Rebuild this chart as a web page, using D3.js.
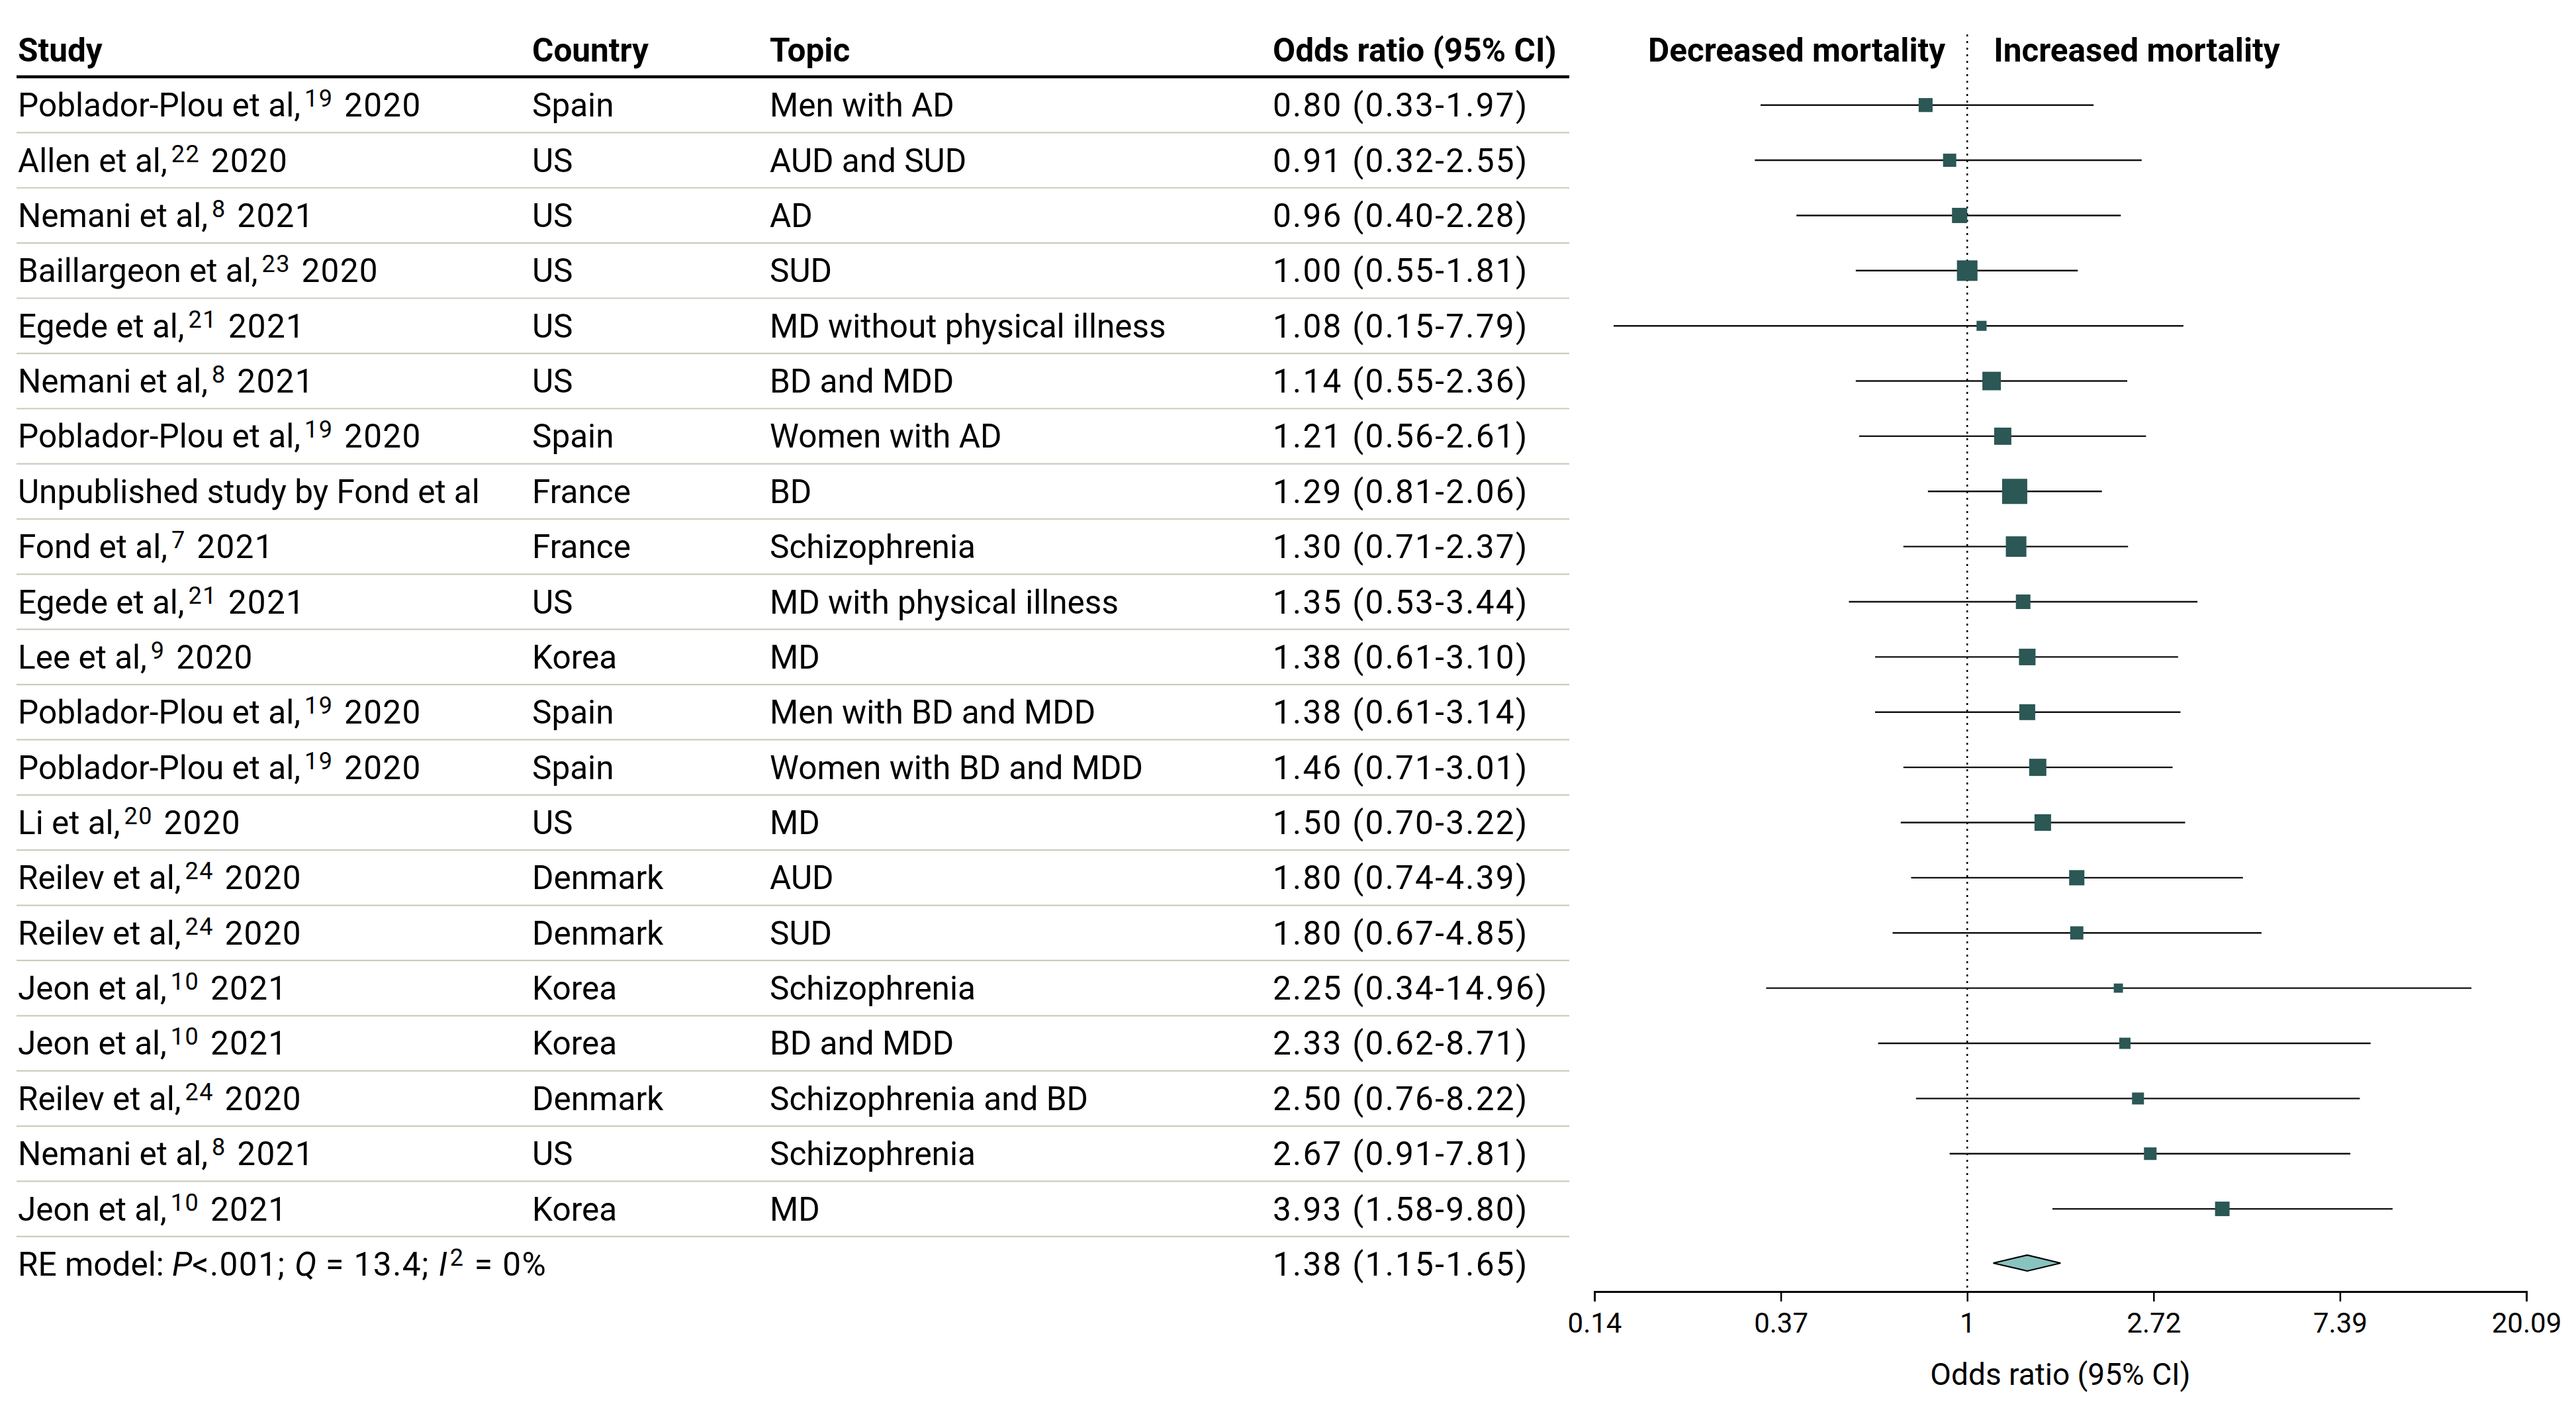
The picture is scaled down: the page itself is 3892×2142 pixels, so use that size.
<!DOCTYPE html>
<html>
<head>
<meta charset="utf-8">
<script src="https://cdn.jsdelivr.net/npm/d3@7"></script>
<style>
  html, body { margin: 0; padding: 0; background: #ffffff; }
  svg { display: block; }
  text { font-family: Roboto, "Noto Sans", sans-serif; fill: #000; }
</style>
</head>
<body>
<svg id="chart" width="3892" height="2142"></svg>
<script>
// ---------------- data ----------------
const authors = ["Poblador-Plou et al,", "Allen et al,", "Nemani et al,", "Baillargeon et al,", "Egede et al,",
  "Nemani et al,", "Poblador-Plou et al,", "Unpublished study by Fond et al", "Fond et al,", "Egede et al,",
  "Lee et al,", "Poblador-Plou et al,", "Poblador-Plou et al,", "Li et al,", "Reilev et al,",
  "Reilev et al,", "Jeon et al,", "Jeon et al,", "Reilev et al,", "Nemani et al,", "Jeon et al,"];
const refs = ["19", "22", "8", "23", "21", "8", "19", "", "7", "21", "9", "19", "19", "20", "24", "24", "10", "10", "24", "8", "10"];
const years = ["2020", "2020", "2021", "2020", "2021", "2021", "2020", "", "2021", "2021", "2020", "2020", "2020", "2020", "2020",
  "2020", "2021", "2021", "2020", "2021", "2021"];
const countries = ["Spain", "US", "US", "US", "US", "US", "Spain", "France", "France", "US", "Korea", "Spain", "Spain", "US",
  "Denmark", "Denmark", "Korea", "Korea", "Denmark", "US", "Korea"];
const topics = ["Men with AD", "AUD and SUD", "AD", "SUD", "MD without physical illness", "BD and MDD", "Women with AD", "BD",
  "Schizophrenia", "MD with physical illness", "MD", "Men with BD and MDD", "Women with BD and MDD", "MD", "AUD", "SUD",
  "Schizophrenia", "BD and MDD", "Schizophrenia and BD", "Schizophrenia", "MD"];
// odds ratio column as printed
const orLabels = ["0.80 (0.33-1.97)", "0.91 (0.32-2.55)", "0.96 (0.40-2.28)", "1.00 (0.55-1.81)", "1.08 (0.15-7.79)",
  "1.14 (0.55-2.36)", "1.21 (0.56-2.61)", "1.29 (0.81-2.06)", "1.30 (0.71-2.37)", "1.35 (0.53-3.44)", "1.38 (0.61-3.10)",
  "1.38 (0.61-3.14)", "1.46 (0.71-3.01)", "1.50 (0.70-3.22)", "1.80 (0.74-4.39)", "1.80 (0.67-4.85)", "2.25 (0.34-14.96)",
  "2.33 (0.62-8.71)", "2.50 (0.76-8.22)", "2.67 (0.91-7.81)", "3.93 (1.58-9.80)"];
// values as drawn in the plot
const oddsRatio = [0.80, 0.91, 0.96, 1.00, 1.08, 1.14, 1.21, 1.29, 1.30, 1.35, 1.38, 1.38, 1.46, 1.50, 1.80, 1.80, 2.25, 2.33, 2.50, 2.67, 3.93];
const ciLow = [0.33, 0.32, 0.40, 0.55, 0.15, 0.55, 0.56, 0.81, 0.71, 0.53, 0.61, 0.61, 0.71, 0.70, 0.74, 0.67, 0.34, 0.62, 0.76, 0.91, 1.58];
const ciHigh = [1.97, 2.55, 2.28, 1.81, 3.19, 2.36, 2.61, 2.06, 2.37, 3.44, 3.10, 3.14, 3.01, 3.22, 4.39, 4.85, 14.96, 8.71, 8.22, 7.81, 9.80];
// study weights (%)
const weights = [3.7, 3.3, 4.4, 8.0, 1.9, 6.5, 5.6, 12.0, 8.0, 4.0, 5.2, 4.8, 5.6, 5.2, 4.4, 3.3, 1.6, 2.4, 2.7, 3.0, 4.0];
const pooledOR = [1.38, 1.15, 1.65];
const pooledLabel = "1.38 (1.15-1.65)";
const headers = ["Study", "Country", "Topic", "Odds ratio (95% CI)"];
const tickValues = [Math.exp(-2), Math.exp(-1), 1, Math.exp(1), Math.exp(2), Math.exp(3)];
const tickLabels = ["0.14", "0.37", "1", "2.72", "7.39", "20.09"];

// ---------------- layout ----------------
const svg = d3.select("#chart");
const nRows = oddsRatio.length;
const y = d3.scaleLinear().domain([0, 1]).range([158.7, 158.7 + 83.37]);
const x = d3.scaleLog().domain([Math.exp(-2), Math.exp(3)]).range([2409, 3817]);
const size = d3.scaleSqrt().domain([0, 12.0]).range([0, 38]);
const colX = [27, 804, 1163, 1923];
const tableLeft = 25, tableRight = 2371;
const FS = 49.5, SUP = 36, baseOff = 17.5;

// header
svg.append("g").selectAll("text").data(headers).join("text")
  .attr("x", (d, i) => colX[i]).attr("y", y(-1) + baseOff)
  .attr("font-size", FS).attr("font-weight", 700).text(d => d);
svg.append("line").attr("x1", tableLeft).attr("x2", tableRight)
  .attr("y1", y(-0.5) - 1).attr("y2", y(-0.5) - 1)
  .attr("stroke", "#000").attr("stroke-width", 4.5);

svg.append("text").attr("x", x(1) - 33).attr("y", y(-1) + baseOff)
  .attr("text-anchor", "end").attr("font-size", FS).attr("font-weight", 700).text("Decreased mortality");
svg.append("text").attr("x", x(1) + 40).attr("y", y(-1) + baseOff)
  .attr("font-size", FS).attr("font-weight", 700).text("Increased mortality");

// row separators
svg.append("g").selectAll("line").data(d3.range(nRows)).join("line")
  .attr("x1", tableLeft).attr("x2", tableRight)
  .attr("y1", i => y(i + 0.5)).attr("y2", i => y(i + 0.5))
  .attr("stroke", "#c9cebd").attr("stroke-width", 2.2);

// table text
const rows = svg.append("g").selectAll("g").data(d3.range(nRows)).join("g");
rows.each(function (i) {
  const g = d3.select(this);
  const by = y(i) + baseOff;
  const t = g.append("text").attr("x", colX[0]).attr("y", by).attr("font-size", FS);
  t.append("tspan").text(authors[i]);
  if (refs[i]) {
    t.append("tspan").attr("font-size", SUP).attr("dx", 6).attr("dy", -15)
      .attr("letter-spacing", 1.5).text(refs[i]);
    t.append("tspan").attr("dx", 3).attr("dy", 15).attr("letter-spacing", 1.3).text(" " + years[i]);
  }
  g.append("text").attr("x", colX[1]).attr("y", by).attr("font-size", FS).text(countries[i]);
  g.append("text").attr("x", colX[2]).attr("y", by).attr("font-size", FS).text(topics[i]);
  g.append("text").attr("x", colX[3]).attr("y", by).attr("font-size", FS)
    .attr("letter-spacing", 2.3).text(orLabels[i]);
});

// pooled row text
const py = y(nRows) + baseOff;
const re = svg.append("text").attr("x", colX[0]).attr("y", py).attr("font-size", FS);
re.append("tspan").text("RE model: ");
re.append("tspan").attr("font-style", "italic").text("P");
re.append("tspan").attr("letter-spacing", 1.5).text("<.001; ");
re.append("tspan").attr("font-style", "italic").text("Q");
re.append("tspan").attr("letter-spacing", 1.5).text(" = 13.4; ");
re.append("tspan").attr("font-style", "italic").text("I");
re.append("tspan").attr("font-size", SUP).attr("dx", 4).attr("dy", -15).text("2");
re.append("tspan").attr("dx", 3).attr("dy", 15).attr("letter-spacing", 1.5).text(" = 0%");
svg.append("text").attr("x", colX[3]).attr("y", py).attr("font-size", FS)
  .attr("letter-spacing", 2.3).text(pooledLabel);

// reference line at OR = 1
const axisY = 1951;
svg.append("line").attr("x1", x(1)).attr("x2", x(1)).attr("y1", 52).attr("y2", axisY - 6)
  .attr("stroke", "#000").attr("stroke-width", 2.5).attr("stroke-dasharray", "3,7");

// CI lines
svg.append("g").selectAll("line").data(d3.range(nRows)).join("line")
  .attr("x1", i => x(ciLow[i])).attr("x2", i => x(ciHigh[i]))
  .attr("y1", i => y(i)).attr("y2", i => y(i))
  .attr("stroke", "#111").attr("stroke-width", 2.4);

// markers
svg.append("g").selectAll("rect").data(d3.range(nRows)).join("rect")
  .attr("x", i => x(oddsRatio[i]) - size(weights[i]) / 2)
  .attr("y", i => y(i) - size(weights[i]) / 2)
  .attr("width", i => size(weights[i])).attr("height", i => size(weights[i]))
  .attr("fill", "#2b5755");

// pooled diamond
const dy0 = y(nRows) - 1.5, dh = 12;
const [pOR, pLo, pHi] = pooledOR;
svg.append("path")
  .attr("d", `M${x(pLo)},${dy0} L${x(pOR)},${dy0 - dh} L${x(pHi)},${dy0} L${x(pOR)},${dy0 + dh} Z`)
  .attr("fill", "#88c3bf").attr("stroke", "#000").attr("stroke-width", 2.2);

// axis
const axis = d3.axisBottom(x).tickValues(tickValues).tickFormat((d, i) => tickLabels[i]).tickSize(15).tickPadding(17);
const ag = svg.append("g").attr("transform", `translate(0,${axisY})`).call(axis);
ag.select(".domain").attr("stroke", "#000").attr("stroke-width", 3);
ag.selectAll(".tick line").attr("stroke", "#000").attr("stroke-width", 2.5);
ag.selectAll(".tick text").attr("font-size", 42).attr("font-family", "Roboto, sans-serif").attr("fill", "#000");

svg.append("text").attr("x", (x.range()[0] + x.range()[1]) / 2).attr("y", 2092)
  .attr("text-anchor", "middle").attr("font-size", 46).text("Odds ratio (95% CI)");
</script>
</body>
</html>
